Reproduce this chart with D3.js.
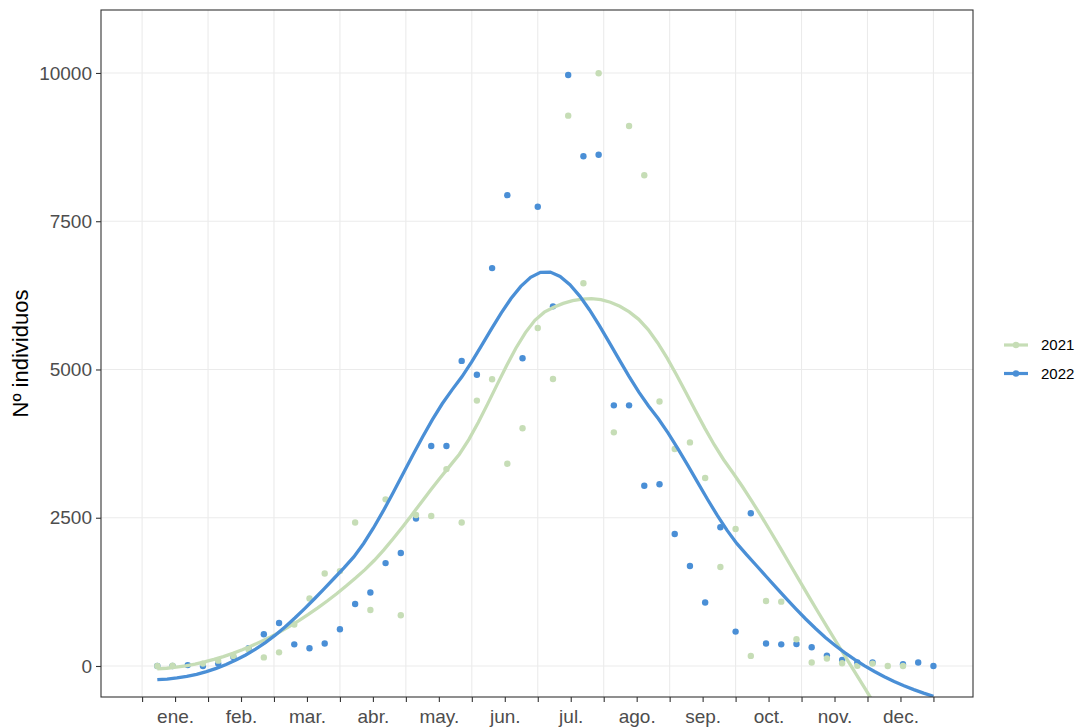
<!DOCTYPE html>
<html>
<head>
<meta charset="utf-8">
<script src="https://cdn.jsdelivr.net/npm/d3@7"></script>
<style>
  body { margin: 0; background: #fff; }
  text { font-family: "Liberation Sans", Arial, sans-serif; }
</style>
</head>
<body>
<svg id="chart" width="1079" height="728"></svg>
<script>
// weekly counts, week 1..52
const weeks = d3.range(1, 53);
const counts2021 = [
  0, 5, null, 40, 90, 170, 280, 145, 230, 700,
  1140, 1560, 1600, 2420, 945, 2810, 855, 2545, 2530, 3320,
  2420, 4475, 4835, 3410, 4010, 5700, 4840, 9280, 6455, 9995,
  3940, 9105, 8275, 4460, 3660, 3770, 3170, 1670, 2310, 170,
  1095, 1085, 450, 60, 125, 45, 5, 40, 0, 0,
  null, null
];
const counts2022 = [
  0, 0, 15, 0, 40, 150, 300, 535, 725, 365,
  300, 380, 620, 1045, 1240, 1735, 1905, 2485, 3710, 3710,
  5145, 4910, 6710, 7940, 5190, 7745, 6065, 9965, 8595, 8620,
  4395, 4395, 3040, 3065, 2225, 1685, 1070, 2340, 580, 2575,
  380, 365, 370, 315, 175, 100, 60, 60, null, 30,
  60, 0
];
const seriesNames = ["2021", "2022"];
const seriesColors = ["#c6ddb6", "#4a8fd6"];
const monthLabels = ["ene.", "feb.", "mar.", "abr.", "may.", "jun.",
                     "jul.", "ago.", "sep.", "oct.", "nov.", "dec."];
const yTicks = [0, 2500, 5000, 7500, 10000];

const margin = {top: 10, right: 106, bottom: 31, left: 101},
    width = 1079 - margin.left - margin.right,
    height = 728 - margin.top - margin.bottom;

const svg = d3.select("#chart");
const g = svg.append("g")
    .attr("transform", "translate(" + margin.left + "," + margin.top + ")");

const x = d3.scaleLinear().domain([-2.7, 54.6]).range([0, width]);
const y = d3.scaleLinear().domain([-523, 11062]).range([height, 0]);

// 25 breaks from week 0 to 52, month names on every other one
const xBreaks = d3.range(25).map(i => 52 * i / 24);
const xLabel = i => (i % 2 === 1 ? monthLabels[(i - 1) / 2] : "");

// grid
g.append("g").selectAll("line")
  .data(xBreaks.filter((d, i) => i % 2 === 0))
  .join("line")
    .attr("x1", d => x(d)).attr("x2", d => x(d))
    .attr("y1", 0).attr("y2", height)
    .attr("stroke", "#ebebeb").attr("stroke-width", 1.1);
g.append("g").selectAll("line")
  .data(yTicks)
  .join("line")
    .attr("x1", 0).attr("x2", width)
    .attr("y1", d => y(d)).attr("y2", d => y(d))
    .attr("stroke", "#ebebeb").attr("stroke-width", 1.1);

// local quadratic fit at x0 -> [value, slope] (tricube weights, q nearest)
function localFit(xs, ys, x0, q) {
  const n = xs.length;
  const d = xs.map(v => Math.abs(v - x0));
  const h = Math.max(d.slice().sort((a, b) => a - b)[q - 1], 1e-9);
  const S = [0, 0, 0, 0, 0], T = [0, 0, 0];
  for (let i = 0; i < n; i++) {
    const u = d[i] / h;
    if (u >= 1) continue;
    const w = Math.pow(1 - u * u * u, 3);
    const t = xs[i] - x0;
    let p = w;
    for (let k = 0; k < 5; k++) { S[k] += p; if (k < 3) T[k] += p * ys[i]; p *= t; }
  }
  const A = [[S[0], S[1], S[2], T[0]], [S[1], S[2], S[3], T[1]], [S[2], S[3], S[4], T[2]]];
  for (let c = 0; c < 3; c++) {
    for (let r = c + 1; r < 3; r++) {
      const f = A[r][c] / A[c][c];
      for (let k = c; k < 4; k++) A[r][k] -= f * A[c][k];
    }
  }
  const b = [0, 0, 0];
  for (let r = 2; r >= 0; r--) {
    let s = A[r][3];
    for (let k = r + 1; k < 3; k++) s -= A[r][k] * b[k];
    b[r] = s / A[r][r];
  }
  return [b[0], b[1]];
}

// loess like R's default (span .75, degree 2, kd-tree vertices + cubic Hermite)
function loess(xs, ys, xEval, span) {
  const n = xs.length, q = Math.floor(n * span);
  const fc = Math.floor(n * span * 0.2);
  const sx = xs.slice().sort((a, b) => a - b);
  const lo = sx[0], hi = sx[n - 1], mu = 0.005 * (hi - lo);
  const verts = [lo - mu, hi + mu];
  (function split(l, u) {            // 1-based, inclusive
    if (u - l + 1 <= fc) return;
    const m = Math.floor((l + u) / 2);
    verts.push((sx[m - 1] + sx[m]) / 2);
    split(l, m); split(m + 1, u);
  })(1, n);
  verts.sort((a, b) => a - b);
  const vfit = verts.map(v => localFit(xs, ys, v, q));
  return xEval.map(x0 => {
    let j = d3.bisectRight(verts, x0) - 1;
    j = Math.max(0, Math.min(verts.length - 2, j));
    const v0 = verts[j], v1 = verts[j + 1], hh = v1 - v0, t = (x0 - v0) / hh;
    const [f0, s0] = vfit[j], [f1, s1] = vfit[j + 1];
    const t2 = t * t, t3 = t2 * t;
    return (2 * t3 - 3 * t2 + 1) * f0 + (t3 - 2 * t2 + t) * hh * s0 +
           (-2 * t3 + 3 * t2) * f1 + (t3 - t2) * hh * s1;
  });
}

const series = [counts2021, counts2022].map((vals, si) => {
  const pts = weeks.map((w, i) => ({w: w, v: vals[i]})).filter(d => d.v !== null);
  const lo = d3.min(pts, d => d.w), hi = d3.max(pts, d => d.w);
  const grid = d3.range(80).map(i => lo + (hi - lo) * i / 79);
  const fit = loess(pts.map(d => d.w), pts.map(d => d.v), grid, 0.75);
  return {name: seriesNames[si], color: seriesColors[si], pts: pts,
          smooth: grid.map((w, i) => ({w: w, v: fit[i]}))};
});

svg.append("clipPath").attr("id", "panel")
  .append("rect").attr("width", width).attr("height", height);
const plot = g.append("g").attr("clip-path", "url(#panel)");

// points (2022 first, 2021 on top)
series.slice().reverse().forEach(s => {
  plot.append("g").selectAll("circle")
    .data(s.pts)
    .join("circle")
      .attr("cx", d => x(d.w))
      .attr("cy", d => y(d.v))
      .attr("r", 3.2)
      .attr("fill", s.color);
});

// smooth lines
const line = d3.line().x(d => x(d.w)).y(d => y(d.v)).curve(d3.curveLinear);
series.forEach(s => {
  plot.append("path")
    .datum(s.smooth)
    .attr("d", line)
    .attr("fill", "none")
    .attr("stroke", s.color)
    .attr("stroke-width", 3.3);
});

// panel border
g.append("rect")
  .attr("width", width).attr("height", height)
  .attr("fill", "none").attr("stroke", "#333333").attr("stroke-width", 1.1);

// axes
const xAxis = g.append("g")
  .attr("transform", "translate(0," + height + ")")
  .call(d3.axisBottom(x).tickValues(xBreaks).tickSize(5).tickPadding(8)
        .tickFormat((d, i) => xLabel(i)));
const yAxis = g.append("g")
  .call(d3.axisLeft(y).tickValues(yTicks).tickSize(5).tickPadding(4)
        .tickFormat(d3.format("d")));
[xAxis, yAxis].forEach(a => {
  a.select(".domain").remove();
  a.selectAll(".tick line").attr("stroke", "#333333").attr("stroke-width", 1.1);
  a.selectAll(".tick text").attr("fill", "#4d4d4d")
    .style("font-size", "19px").style("font-family", "Liberation Sans, Arial, sans-serif");
});

// y title
svg.append("text")
  .attr("transform", "translate(28," + (margin.top + height / 2) + ") rotate(-90)")
  .attr("text-anchor", "middle")
  .style("font-size", "22px")
  .attr("fill", "#000")
  .text("Nº individuos");

// legend
const legend = svg.append("g").attr("transform", "translate(1004,345)");
series.forEach((s, i) => {
  const row = legend.append("g").attr("transform", "translate(0," + (i * 28.5) + ")");
  row.append("line").attr("x1", 0).attr("x2", 24).attr("y1", 0).attr("y2", 0)
    .attr("stroke", s.color).attr("stroke-width", 3.2);
  row.append("circle").attr("cx", 12).attr("cy", 0).attr("r", 3.2).attr("fill", s.color);
  row.append("text").attr("x", 37).attr("y", 0).attr("dy", "0.36em")
    .style("font-size", "15px").attr("fill", "#000").text(s.name);
});
</script>
</body>
</html>
